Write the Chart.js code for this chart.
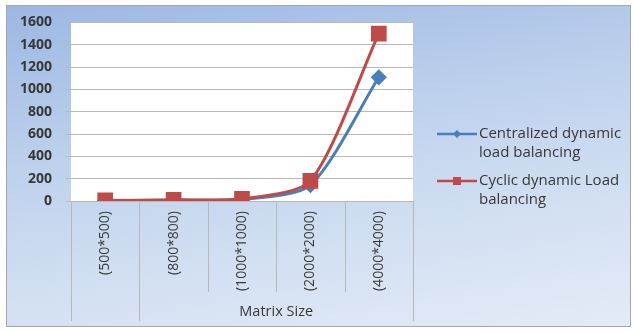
<!DOCTYPE html>
<html>
<head>
<meta charset="utf-8">
<script src="https://cdn.jsdelivr.net/npm/chart.js@4.4.0/dist/chart.umd.min.js"></script>
<style>
  html, body { margin: 0; padding: 0; background: #fff; }
  #wrap { position: relative; width: 634px; height: 331px; }
  #frame {
    position: absolute; left: 6px; top: 5px; width: 623px; height: 320px;
    border: 1px solid #a6a6a6;
    background: linear-gradient(170deg, #9cb7e2 0%, #bbcfec 35%, #d3e0f2 70%, #e3ebf6 100%);
  }
  #chart { position: absolute; left: 0; top: 0; }
</style>
</head>
<body>
<div id="wrap">
  <div id="frame"></div>
  <canvas id="chart" width="634" height="331"></canvas>
</div>
<script>
// matrix sizes on the x axis
const categories = ["(500*500)", "(800*800)", "(1000*1000)", "(2000*2000)", "(4000*4000)"];
// execution time per strategy
const centralized = [3, 8, 15, 143, 1108];
const cyclic = [5, 10, 20, 180, 1500];
const seriesNames = [["Centralized dynamic", "load balancing"], ["Cyclic dynamic Load", "balancing"]];
const axisTitle = "Matrix Size";

const fontFamily = "'Open Sans', Lato, sans-serif";
const textColor = "#383838";
const lineColor = "#b8b8b8";

const decor = {
    id: 'decor',
    beforeDraw(chart) {
        const { ctx, chartArea: a } = chart;
        ctx.save();
        ctx.fillStyle = '#ffffff';
        ctx.fillRect(a.left, a.top, a.right - a.left, a.bottom - a.top);
        ctx.restore();
    },
    afterDraw(chart) {
        const { ctx, chartArea: a } = chart;
        const n = categories.length;
        const step = (a.right - a.left) / n;
        ctx.save();
        // category separators under the axis
        ctx.strokeStyle = lineColor;
        ctx.lineWidth = 1;
        for (let i = 0; i <= n; i++) {
            const px = Math.round(a.left + step * i) + 0.5;
            const full = (i === 0 || i === 1 || i === n);
            ctx.beginPath();
            ctx.moveTo(px, a.bottom);
            ctx.lineTo(px, full ? 321 : 292);
            ctx.stroke();
        }
        // axis title
        ctx.fillStyle = textColor;
        ctx.font = "14.5px " + fontFamily;
        ctx.textAlign = 'center';
        ctx.textBaseline = 'middle';
        ctx.fillText(axisTitle, (a.left + step + a.right) / 2, 312);

        // legend
        const rows = [134, 181];
        chart.data.datasets.forEach((ds, i) => {
            const y = rows[i];
            ctx.strokeStyle = ds.borderColor;
            ctx.lineWidth = 2.5;
            ctx.beginPath();
            ctx.moveTo(437, y);
            ctx.lineTo(477, y);
            ctx.stroke();
            ctx.fillStyle = ds.backgroundColor;
            if (ds.pointStyle === 'rect') {
                ctx.fillRect(453, y - 4, 8, 8);
            } else {
                ctx.beginPath();
                ctx.moveTo(457, y - 4);
                ctx.lineTo(461, y);
                ctx.lineTo(457, y + 4);
                ctx.lineTo(453, y);
                ctx.closePath();
                ctx.fill();
            }
            ctx.fillStyle = textColor;
            ctx.font = "15px " + fontFamily;
            ctx.textAlign = 'left';
            ctx.textBaseline = 'middle';
            seriesNames[i].forEach((t, j) => ctx.fillText(t, 479, y + j * 19));
        });
        ctx.restore();
    }
};

new Chart(document.getElementById('chart'), {
    type: 'line',
    data: {
        labels: categories,
        datasets: [{
            label: seriesNames[0].join(' '),
            data: centralized,
            borderColor: '#4a7ebb',
            backgroundColor: '#4a7ebb',
            borderWidth: 3,
            pointStyle: 'rectRot',
            pointRadius: 6,
            tension: 0.25,
            order: 2
        }, {
            label: seriesNames[1].join(' '),
            data: cyclic,
            borderColor: '#be4b48',
            backgroundColor: '#be4b48',
            borderWidth: 3,
            pointStyle: 'rect',
            pointRadius: 9,
            tension: 0.25,
            order: 1
        }]
    },
    options: {
        responsive: false,
        animation: false,
        layout: { padding: { top: 22, left: 0, right: 221, bottom: 0 } },
        plugins: { legend: { display: false }, tooltip: { enabled: false } },
        scales: {
            x: {
                offset: true,
                grid: { display: false, drawTicks: false },
                border: { display: true, color: lineColor, width: 1 },
                ticks: {
                    minRotation: 90, maxRotation: 90, padding: 10,
                    color: textColor, font: { family: fontFamily, size: 14 }
                },
                afterFit(s) { s.height = 130; }
            },
            y: {
                min: 0, max: 1600,
                ticks: {
                    stepSize: 200, padding: 14,
                    color: textColor, font: { family: fontFamily, size: 14, weight: 'bold' },
                    callback: (v) => String(v)
                },
                grid: { color: lineColor, tickLength: 5 },
                border: { display: false },
                afterFit(s) { s.width = 71; }
            }
        }
    },
    plugins: [decor]
});
</script>
</body>
</html>
